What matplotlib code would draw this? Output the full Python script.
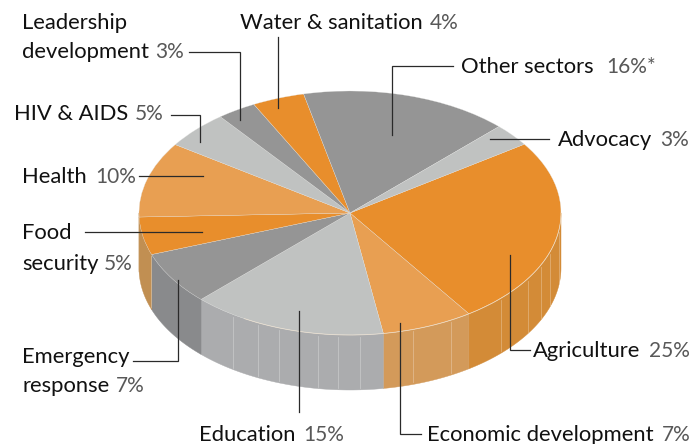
import matplotlib
matplotlib.use("Agg")
import matplotlib.pyplot as plt
import numpy as np
from matplotlib.patches import Wedge, Polygon
from matplotlib.transforms import Affine2D

# clockwise from the Agriculture slice
sectors = ["Agriculture", "Economic development", "Education", "Emergency response",
           "Food security", "Health", "HIV & AIDS", "Leadership development",
           "Water & sanitation", "Other sectors", "Advocacy"]
shares = [25, 7, 15, 7, 5, 10, 5, 3, 4, 16, 3]
top_colors = ["#E88E2C", "#E89F52", "#C0C2C1", "#959595", "#E88E2C", "#E89F52",
              "#C0C2C1", "#959595", "#E88E2C", "#959595", "#C0C2C1"]
side_colors = ["#D38B37", "#D39A5A", "#ABACAE", "#898A8C", "#C18F52", "#C18F52",
               "#ABACAE", "#898A8C", "#D38B37", "#898A8C", "#ABACAE"]

CX, CY = 350, 213
RX, RY = 211, 122
DEPTH = 55
START = 34.3


def rim(theta):
    t = np.radians(theta)
    return CX + RX * np.cos(t), CY - RY * np.sin(t)


def label(ax, x, y, name, value="", value_x=None):
    ax.text(x, y, name, fontsize=15.8, color="#111111", family="Lato", va="baseline", ha="left")
    if value:
        ax.text(value_x, y, value, fontsize=15, color="#585858", family="Lato",
                va="baseline", ha="left")


fig = plt.figure(figsize=(6.92, 4.44), dpi=100)
ax = fig.add_axes([0, 0, 1, 1])
ax.set_xlim(0, 692)
ax.set_ylim(444, 0)
ax.axis("off")

edges = START - np.cumsum([0] + shares) * 3.6
disc = Affine2D().scale(RX, -RY).translate(CX, CY) + ax.transData

# side wall, only the front half shows
for i in range(len(shares)):
    a0, a1 = edges[i], edges[i + 1]
    a0c, a1c = min(a0, 0), max(a1, -180)
    if a0c <= a1c:
        continue
    th = np.linspace(a0c, a1c, 60)
    x, y = rim(th)
    pts = np.column_stack([np.r_[x, x[::-1]], np.r_[y, y[::-1] + DEPTH]])
    ax.add_patch(Polygon(pts, closed=True, fc=side_colors[i], ec=side_colors[i], lw=0.3, zorder=1))

# seams on the wall
for sx in [151, 233, 258, 279, 318, 338, 360, 413, 451, 501, 528, 541, 550, 559]:
    dx = (sx - CX) / RX
    y0 = CY + RY * np.sqrt(1 - dx * dx)
    ax.plot([sx, sx], [y0 + 2, y0 + DEPTH - 2], color="white", lw=0.6, alpha=0.3, zorder=2)

# top of the pie
for i in range(len(shares)):
    ax.add_patch(Wedge((0, 0), 1, edges[i + 1], edges[i], fc=top_colors[i], ec="#E4E4E2",
                       lw=0.2, transform=disc, zorder=3))

# pale highlight along the front rim
th = np.linspace(-120, 0, 120)
ax.plot(*rim(th), color="#F4E6D2", lw=0.6, alpha=0.7, zorder=3)

# leader lines
leaders = [
    [(278, 37), (278, 108)],
    [(189, 52), (240, 52), (240, 120)],
    [(171, 115), (200, 115), (200, 142)],
    [(139, 176), (203, 176)],
    [(85, 232), (202, 232)],
    [(133, 361), (178, 361), (178, 280)],
    [(299, 311), (299, 412)],
    [(400, 323), (400, 434), (421, 434)],
    [(510, 255), (510, 350), (530, 350)],
    [(490, 139), (549, 139)],
    [(392, 135), (392, 66), (453, 66)],
]
for line in leaders:
    xs, ys = zip(*line)
    ax.plot(xs, ys, color="#2a2a2a", lw=0.9, zorder=4, solid_joinstyle="miter")

label(ax, 22, 29, "Leadership")
label(ax, 22, 58, "development", "3%", 155)
label(ax, 240, 29, "Water & sanitation", "4%", 430)
label(ax, 461, 73, "Other sectors", "16%*", 606)
label(ax, 14, 120, "HIV & AIDS", "5%", 135)
label(ax, 558, 146, "Advocacy", "3%", 660)
label(ax, 22, 183, "Health", "10%", 95)
label(ax, 22, 239, "Food")
label(ax, 22, 270, "security", "5%", 104)
label(ax, 22, 363, "Emergency")
label(ax, 22, 392, "response", "7%", 116)
label(ax, 533, 357, "Agriculture", "25%", 649)
label(ax, 199, 441, "Education", "15%", 303)
label(ax, 427, 441, "Economic development", "7%", 662)

fig.savefig("out.png", dpi=100)
